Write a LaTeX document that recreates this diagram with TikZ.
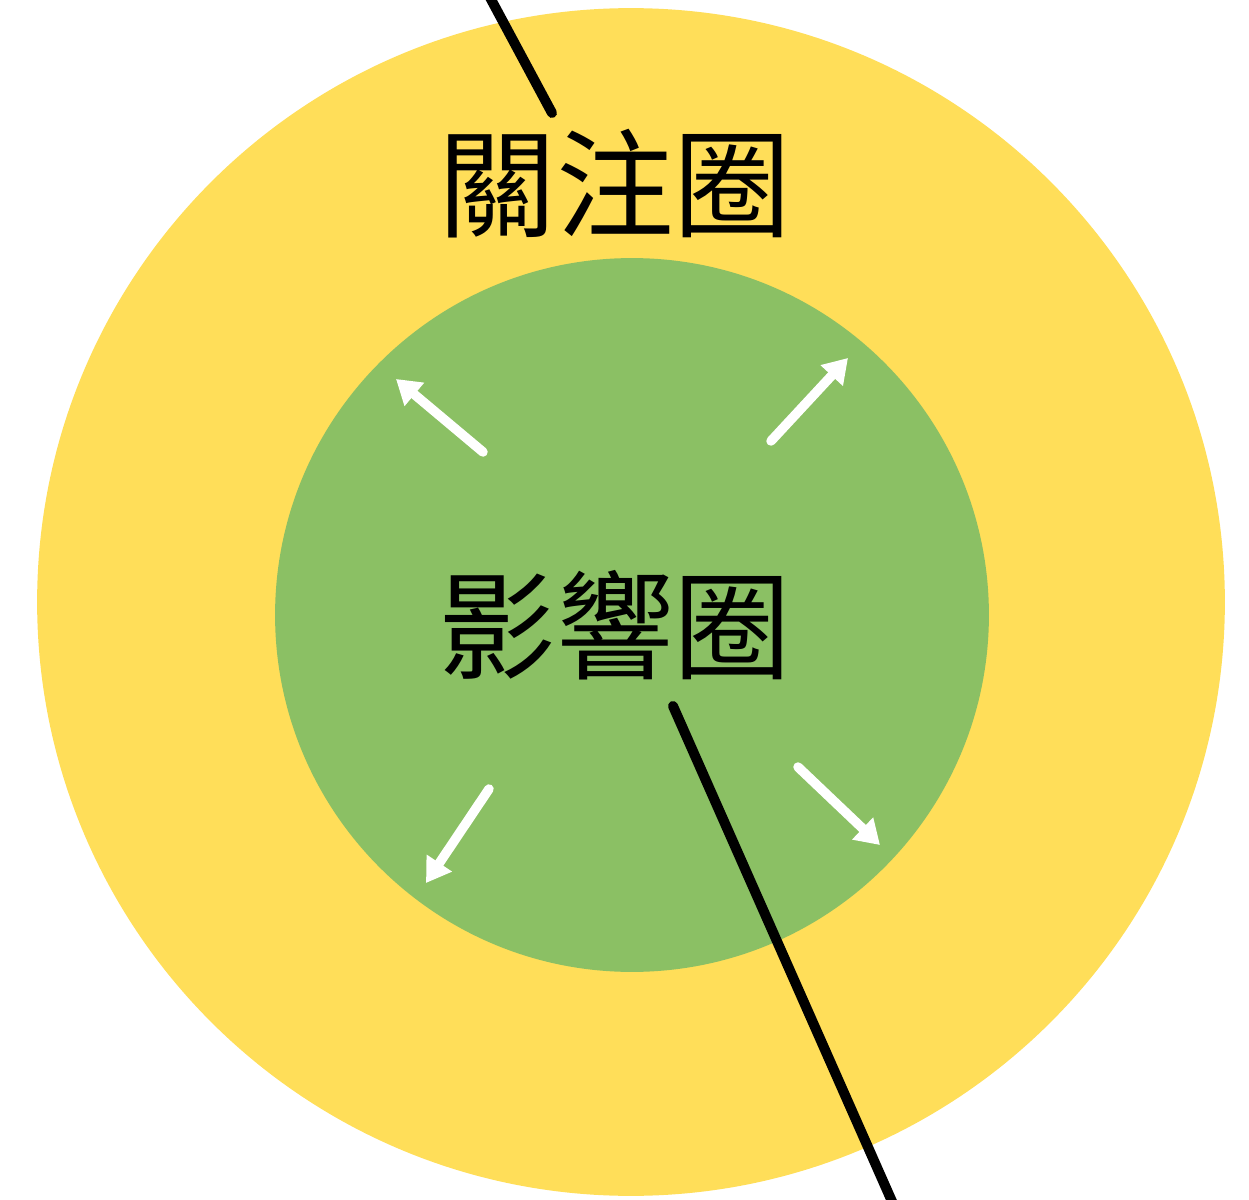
\documentclass[tikz,border=0pt]{standalone}
\usepackage{fontspec}
\newfontfamily\cjk{Noto Sans CJK TC}
\definecolor{concernyellow}{RGB}{255,222,89}
\definecolor{influencegreen}{RGB}{139,192,100}
\usetikzlibrary{arrows.meta, positioning}

\begin{document}
\begin{tikzpicture}[
    x=0.02cm, y=-0.02cm,
    ring/.style={circle, draw=none, inner sep=0pt},
    circletext/.style={font=\cjk\fontsize{67}{70}\selectfont, inner sep=0pt},
    outarrow/.style={-{Triangle[width=0.58cm, length=0.48cm]}, white, line width=0.19cm, line cap=round},
    pointer/.style={black, line width=0.2cm, line cap=round}
]
\useasboundingbox (0,0) rectangle (1249,1200);
\clip (0,0) rectangle (1249,1200);
\node[ring, fill=concernyellow, minimum size=23.76cm] (concern) at (631,602) {};
\node[ring, fill=influencegreen, minimum size=14.28cm] (influence) at (632,615) {};

\node[circletext] (concerntext) at (615,184) {關注圈};
\node[circletext] (influencetext) at (615,625) {影響圈};

% arrows pushing outwards
\foreach \sx/\sy/\ex/\ey in {483/452/396/379, 771/441/848/358, 489/789/426/883, 798/767/880/845}
    \draw[outarrow] (\sx,\sy) -- (\ex,\ey);

\coordinate (topend) at (486,-10);
\coordinate (topstart) at (552,113);
\coordinate (lowstart) at (673,706);
\coordinate (lowend) at (898,1215);
\draw[pointer] (topstart) -- (topend);
\draw[pointer] (lowstart) -- (lowend);
\end{tikzpicture}
\end{document}
